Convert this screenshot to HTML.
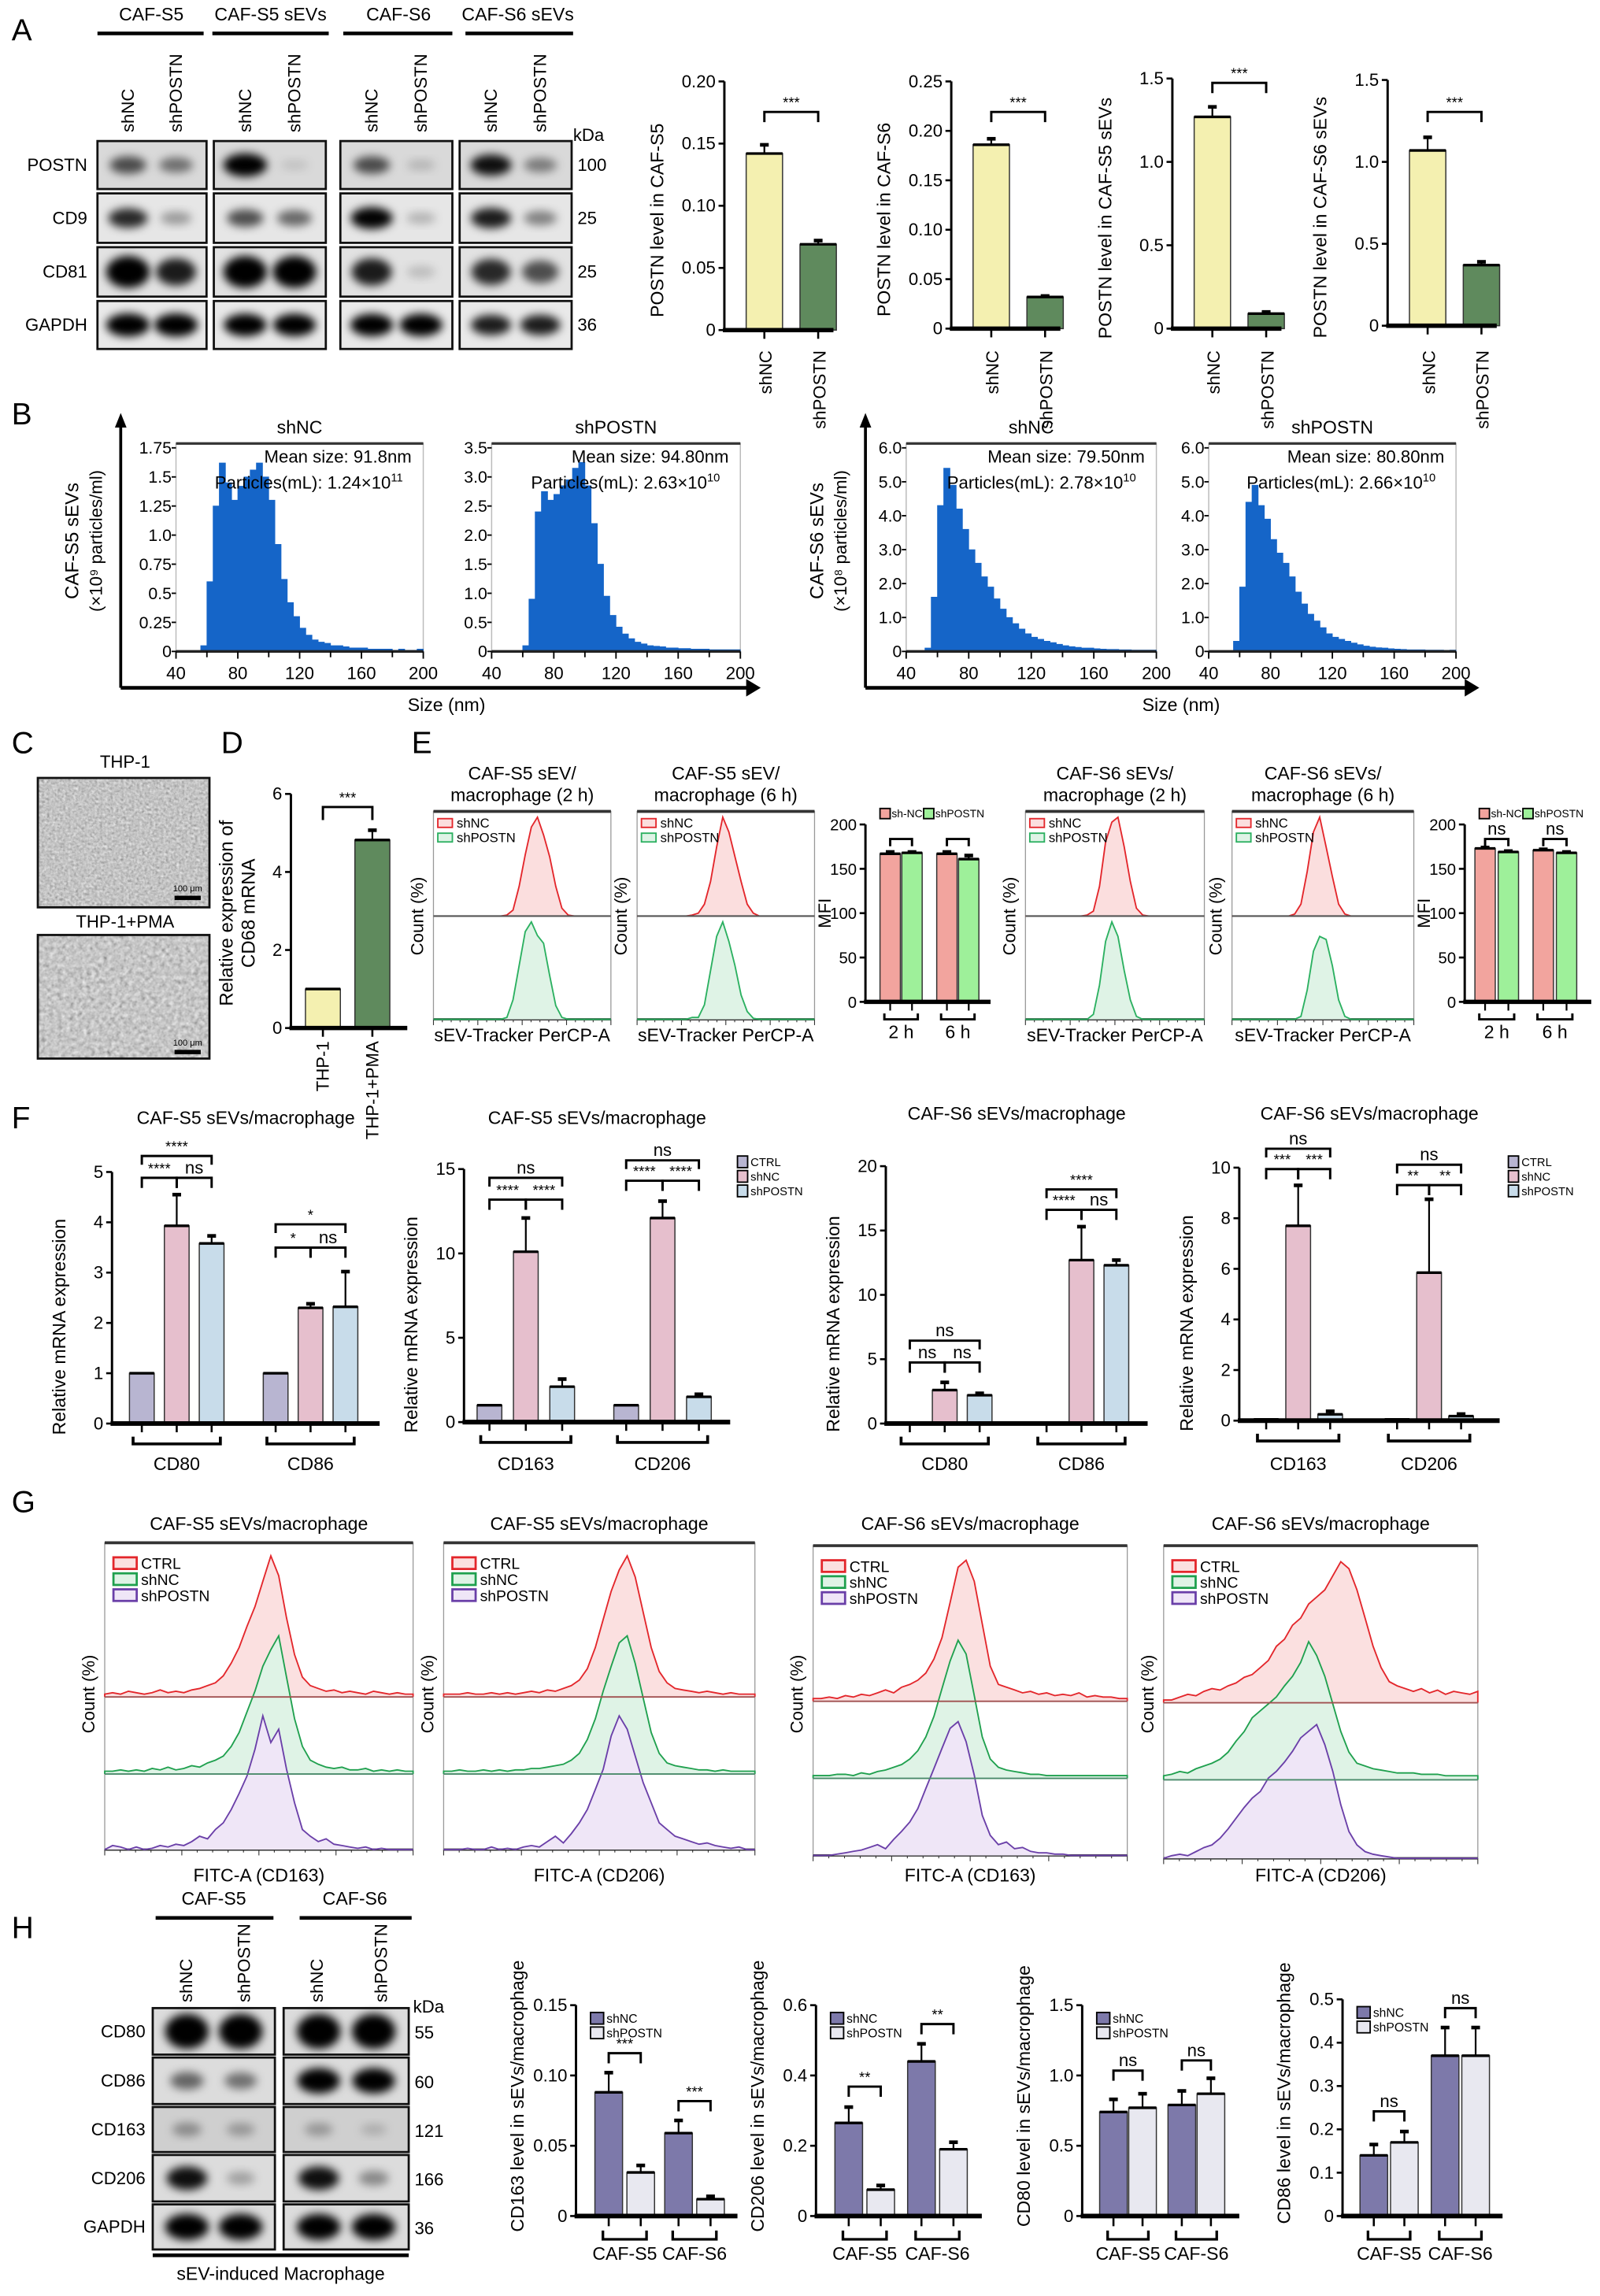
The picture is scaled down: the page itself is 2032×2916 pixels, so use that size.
<!DOCTYPE html>
<html><head><meta charset="utf-8"><style>
html,body{margin:0;padding:0;background:#fff}
svg{display:block;font-family:"Liberation Sans",Arial,sans-serif}
</style></head><body>
<svg id="fig" xmlns="http://www.w3.org/2000/svg" width="2032" height="2916" viewBox="0 0 1100 1579" preserveAspectRatio="none">
<defs>
<filter id="blur" x="-50%" y="-50%" width="200%" height="200%"><feGaussianBlur stdDeviation="3"/></filter>
<filter id="cells1" x="0" y="0" width="100%" height="100%"><feTurbulence type="fractalNoise" baseFrequency="0.55" numOctaves="2" seed="3"/><feColorMatrix type="matrix" values="0.33 0.33 0.33 0 0.05 0.33 0.33 0.33 0 0.05 0.33 0.33 0.33 0 0.05 0 0 0 0 1"/></filter>
<filter id="cells2" x="0" y="0" width="100%" height="100%"><feTurbulence type="fractalNoise" baseFrequency="0.35" numOctaves="2" seed="7"/><feColorMatrix type="matrix" values="0.36 0.36 0.36 0 0.02 0.36 0.36 0.36 0 0.02 0.36 0.36 0.36 0 0.02 0 0 0 0 1"/></filter>
</defs>
</svg>
<script>
// ===== DATA =====
const aCats = ['shNC','shPOSTN'];
const a1Vals = [0.142, 0.069], a1Err = [0.007, 0.003];
const a2Vals = [0.186, 0.032], a2Err = [0.006, 0.001];
const a3Vals = [1.27, 0.09], a3Err = [0.06, 0.01];
const a4Vals = [1.07, 0.37], a4Err = [0.08, 0.02];
const a1Ticks = [0, 0.05, 0.10, 0.15, 0.20], a1TickLabels = ['0','0.05','0.10','0.15','0.20'];
const a2Ticks = [0, 0.05, 0.10, 0.15, 0.20, 0.25], a2TickLabels = ['0','0.05','0.10','0.15','0.20','0.25'];
const a34Ticks = [0, 0.5, 1.0, 1.5], a34TickLabels = ['0','0.5','1.0','1.5'];
const aBlotRows = ['POSTN','CD9','CD81','GAPDH'];
const aBlotKda = ['100','25','25','36'];
const aBandPOSTN = [0.6,0.45,1.0,0.1,0.6,0.15,0.85,0.4];
const aBandCD9 = [0.75,0.3,0.6,0.5,0.9,0.2,0.8,0.4];
const aBandCD81 = [1,0.8,1,1,0.8,0.15,0.75,0.6];
const aBandGAPDH = [1,1,0.95,0.95,0.95,0.95,0.8,0.8];
const bBins = [40,44,48,52,56,60,64,68,72,76,80,84,88,92,96,100,104,108,112,116,120,124,128,132,136,140,144,148,152,156,160,164,168,172,176,180,184,188,192,196];
const b1Vals = [0,0,0,0,0.05,0.6,1.25,1.62,1.45,1.3,1.42,1.5,1.56,1.62,1.5,1.3,0.92,0.62,0.42,0.3,0.2,0.14,0.1,0.08,0.07,0.05,0.05,0.04,0.03,0.03,0.03,0.02,0.02,0.02,0.02,0.01,0.02,0.01,0.01,0.02];
const b2Vals = [0,0,0,0,0,0.1,0.9,2.4,2.75,2.6,2.7,2.85,2.95,3.15,3.25,2.85,2.2,1.5,0.95,0.62,0.42,0.3,0.22,0.16,0.13,0.1,0.09,0.08,0.06,0.06,0.05,0.05,0.04,0.04,0.04,0.03,0.03,0.03,0.03,0.03];
const b3Vals = [0,0,0,0.1,1.6,4.3,5.4,4.9,4.2,3.6,3.0,2.6,2.2,1.9,1.55,1.25,1.0,0.82,0.66,0.52,0.42,0.36,0.3,0.26,0.21,0.17,0.14,0.12,0.1,0.1,0.08,0.07,0.06,0.06,0.05,0.05,0.04,0.04,0.04,0.04];
const b4Vals = [0,0,0,0,0.3,1.9,4.4,4.9,4.3,3.9,3.3,2.9,2.6,2.2,1.75,1.4,1.1,0.9,0.7,0.52,0.42,0.36,0.3,0.25,0.2,0.16,0.13,0.11,0.1,0.08,0.07,0.06,0.05,0.05,0.05,0.04,0.04,0.04,0.03,0.04];
const b1Ticks = [0,0.25,0.5,0.75,1.0,1.25,1.5,1.75], b1TickLabels = ['0','0.25','0.5','0.75','1.0','1.25','1.5','1.75'];
const b2Ticks = [0,0.5,1.0,1.5,2.0,2.5,3.0,3.5], b2TickLabels = ['0','0.5','1.0','1.5','2.0','2.5','3.0','3.5'];
const b34Ticks = [0,1,2,3,4,5,6], b34TickLabels = ['0','1.0','2.0','3.0','4.0','5.0','6.0'];
const bXTicks = [40,80,120,160,200];
const dCats = ['THP-1','THP-1+PMA'];
const dVals = [1.0, 4.82], dErr = [0, 0.25];
const dTicks = [0,2,4,6];
const e1Red   = [0,0,0,0,0,0,0,0,0,0,0,0,0.01,0.06,0.3,0.62,0.9,1.0,0.82,0.6,0.3,0.08,0.01,0,0,0,0,0,0,0];
const e1Green = [0,0,0,0,0,0,0,0,0,0,0,0,0.02,0.2,0.55,0.9,1.0,0.86,0.78,0.45,0.14,0.02,0,0,0,0,0,0,0,0];
const e2Red   = [0,0,0,0,0,0,0,0,0,0.01,0.03,0.12,0.35,0.7,1.0,0.85,0.6,0.35,0.12,0.03,0,0,0,0,0,0,0,0,0,0];
const e2Green = [0,0,0,0,0,0,0,0,0,0.02,0.02,0.15,0.5,0.85,1.0,0.8,0.55,0.25,0.08,0.01,0,0,0,0,0,0,0,0,0,0];
const e3Red   = [0,0,0,0,0,0,0,0,0,0,0.01,0.05,0.3,0.75,0.95,1.0,0.7,0.35,0.08,0.01,0,0,0,0,0,0,0,0,0,0];
const e3Green = [0,0,0,0,0,0,0,0,0,0,0,0.05,0.35,0.8,1.0,0.85,0.5,0.2,0.03,0,0,0,0,0,0,0,0,0,0,0];
const e4Red   = [0,0,0,0,0,0,0,0,0,0,0.02,0.12,0.45,0.85,1.0,0.7,0.4,0.12,0.02,0,0,0,0,0,0,0,0,0,0,0];
const e4Green = [0,0,0,0,0,0,0,0,0,0,0,0.03,0.3,0.7,0.85,0.82,0.55,0.2,0.03,0,0,0,0,0,0,0,0,0,0,0];
const eGroups = ['2 h','6 h'];
const e5shNC = [167,167], e5shPOSTN = [168,161], e5ErrNC = [2,2], e5ErrPO = [1,4];
const e6shNC = [173,171], e6shPOSTN = [169,168], e6ErrNC = [1,1], e6ErrPO = [1,1];
const eTicks = [0,50,100,150,200];
const fSeries = ['CTRL','shNC','shPOSTN'];
const f1Groups = ['CD80','CD86'];
const f1Vals = [[1,3.93,3.58],[1,2.3,2.32]], f1Err = [[0,0.62,0.15],[0,0.08,0.7]];
const f2Groups = ['CD163','CD206'];
const f2Vals = [[1,10.1,2.1],[1,12.1,1.5]], f2Err = [[0,2.0,0.45],[0,1.0,0.15]];
const f3Groups = ['CD80','CD86'];
const f3Vals = [[0,2.6,2.2],[0,12.7,12.3]], f3Err = [[0,0.6,0.15],[0,2.6,0.4]];
const f4Groups = ['CD163','CD206'];
const f4Vals = [[0.05,7.7,0.25],[0.05,5.85,0.18]], f4Err = [[0,1.6,0.12],[0,2.9,0.08]];
const f1Ticks=[0,1,2,3,4,5], f2Ticks=[0,5,10,15], f3Ticks=[0,5,10,15,20], f4Ticks=[0,2,4,6,8,10];
const g1Red = [0.02,0.03,0.02,0.04,0.03,0.02,0.03,0.05,0.03,0.04,0.03,0.05,0.06,0.08,0.1,0.15,0.24,0.35,0.5,0.64,0.82,1.0,0.86,0.56,0.3,0.14,0.08,0.06,0.04,0.05,0.03,0.04,0.03,0.02,0.04,0.03,0.02,0.03,0.02,0.02];
const g1Green = [0.02,0.02,0.03,0.02,0.03,0.02,0.04,0.03,0.05,0.03,0.04,0.06,0.05,0.08,0.1,0.13,0.2,0.3,0.45,0.6,0.78,0.9,1.0,0.7,0.4,0.2,0.1,0.07,0.05,0.04,0.05,0.03,0.03,0.04,0.02,0.03,0.02,0.03,0.02,0.02];
const g1Purple = [0,0.03,0.02,0,0.02,0,0.01,0.03,0.02,0.04,0.03,0.06,0.1,0.08,0.15,0.2,0.3,0.42,0.55,0.75,1.0,0.8,0.9,0.6,0.35,0.15,0.1,0.06,0.08,0.04,0.03,0.02,0.01,0.02,0,0.01,0,0,0,0];
const g2Red = [0.02,0.02,0.02,0.03,0.02,0.02,0.03,0.02,0.03,0.02,0.03,0.04,0.03,0.05,0.04,0.06,0.08,0.12,0.2,0.35,0.55,0.75,0.9,1.0,0.85,0.6,0.35,0.18,0.1,0.06,0.05,0.04,0.03,0.04,0.03,0.02,0.03,0.02,0.02,0.02];
const g2Green = [0.02,0.02,0.03,0.02,0.02,0.03,0.02,0.03,0.02,0.03,0.03,0.04,0.04,0.05,0.06,0.07,0.1,0.15,0.25,0.4,0.6,0.78,0.95,1.0,0.8,0.55,0.3,0.15,0.08,0.06,0.05,0.04,0.03,0.03,0.02,0.03,0.02,0.02,0.02,0.02];
const g2Purple = [0,0,0,0.01,0,0,0.02,0,0.01,0,0.02,0.03,0.02,0.06,0.1,0.05,0.12,0.2,0.3,0.45,0.6,0.85,1.0,0.9,0.7,0.5,0.35,0.2,0.15,0.1,0.08,0.06,0.04,0.05,0.03,0.02,0.01,0.02,0,0];
const g3Red = [0.02,0.02,0.03,0.02,0.04,0.03,0.05,0.04,0.06,0.08,0.06,0.1,0.12,0.15,0.2,0.3,0.45,0.7,0.95,1.0,0.85,0.55,0.25,0.12,0.1,0.08,0.06,0.07,0.05,0.06,0.04,0.05,0.04,0.06,0.03,0.04,0.03,0.03,0.02,0.02];
const g3Green = [0.02,0.02,0.02,0.03,0.03,0.02,0.04,0.03,0.05,0.06,0.08,0.1,0.14,0.2,0.3,0.45,0.65,0.85,1.0,0.9,0.6,0.3,0.14,0.08,0.06,0.05,0.04,0.03,0.03,0.02,0.02,0.02,0.02,0.02,0.02,0.02,0.02,0.02,0.02,0.02];
const g3Purple = [0,0,0,0.01,0.02,0.03,0.04,0.06,0.08,0.05,0.12,0.18,0.25,0.35,0.5,0.65,0.8,0.95,1.0,0.85,0.6,0.3,0.15,0.08,0.1,0.05,0.06,0.03,0.02,0.02,0.01,0.01,0,0,0,0,0,0,0,0];
const g4Red = [0.02,0.02,0.04,0.06,0.05,0.08,0.1,0.09,0.12,0.14,0.18,0.2,0.25,0.3,0.4,0.45,0.55,0.6,0.7,0.75,0.8,0.9,1.0,0.95,0.8,0.6,0.4,0.25,0.15,0.12,0.1,0.08,0.1,0.07,0.09,0.06,0.08,0.07,0.06,0.08];
const g4Green = [0.03,0.04,0.06,0.05,0.08,0.1,0.12,0.15,0.2,0.28,0.35,0.45,0.5,0.55,0.6,0.68,0.75,0.85,1.0,0.9,0.75,0.55,0.35,0.2,0.12,0.1,0.08,0.07,0.06,0.05,0.05,0.05,0.04,0.04,0.04,0.03,0.03,0.03,0.03,0.03];
const g4Purple = [0,0.02,0.03,0.02,0.05,0.08,0.1,0.15,0.22,0.3,0.38,0.45,0.5,0.6,0.65,0.72,0.8,0.9,0.95,1.0,0.85,0.65,0.4,0.2,0.1,0.05,0.03,0.02,0.01,0,0,0,0,0,0,0,0,0,0,0];
const hSeries = ['shNC','shPOSTN'];
const hGroups = ['CAF-S5','CAF-S6'];
const h1Vals = [[0.088,0.031],[0.059,0.012]], h1Err = [[0.014,0.005],[0.009,0.002]];
const h2Vals = [[0.265,0.075],[0.44,0.19]], h2Err = [[0.045,0.012],[0.05,0.02]];
const h3Vals = [[0.74,0.77],[0.79,0.87]], h3Err = [[0.09,0.1],[0.1,0.11]];
const h4Vals = [[0.14,0.17],[0.37,0.37]], h4Err = [[0.025,0.025],[0.065,0.065]];
const h1Ticks=[0,0.05,0.10,0.15], h1TickLabels=['0','0.05','0.10','0.15'];
const h2Ticks=[0,0.2,0.4,0.6], h2TickLabels=['0','0.2','0.4','0.6'];
const h3Ticks=[0,0.5,1.0,1.5], h3TickLabels=['0','0.5','1.0','1.5'];
const h4Ticks=[0,0.1,0.2,0.3,0.4,0.5], h4TickLabels=['0','0.1','0.2','0.3','0.4','0.5'];
const hBandCD80=[1,1,1,1], hBandCD86=[0.5,0.45,0.95,0.95], hBandCD163=[0.3,0.25,0.25,0.15], hBandCD206=[0.85,0.25,0.85,0.35], hBandGAPDH=[1,1,1,1];
const hBlotRows=['CD80','CD86','CD163','CD206','GAPDH'], hBlotKda=['55','60','121','166','36'];

// ===== HELPERS =====
const NS='http://www.w3.org/2000/svg';
const svg=document.getElementById('fig');
function mk(tag,a,p,name){
  const e=document.createElementNS(NS,tag);
  for(const k in a) e.setAttribute(k,a[k]);
  
  
  (p||svg).appendChild(e);
  return e;
}
function T(x,y,s,size,anchor,name,rot,extra){
  const a={x:x,y:y,'font-size':size,'text-anchor':anchor||'middle',fill:'#000'};
  if(rot) a.transform='rotate('+rot+' '+x+' '+y+')';
  if(extra) for(const k in extra) a[k]=extra[k];
  const e=mk('text',a,null,name);
  e.textContent=s;
  return e;
}
function L(x1,y1,x2,y2,w,name,col){return mk('line',{x1:x1,y1:y1,x2:x2,y2:y2,stroke:col||'#000','stroke-width':w||1},null,name);}
function P(d,st,name){const a={d:d};for(const k in st)a[k]=st[k];return mk('path',a,null,name);}
function sig(x1,x2,y,label,drop,name){
  P('M'+x1+' '+(y+drop)+'V'+y+'H'+x2+'V'+(y+drop),{fill:'none',stroke:'#000','stroke-width':1.6},name+'-bracket');
  T((x1+x2)/2,y-3,label,label==='ns'?12:10,'middle',name+'-label');
}
function yAxis(axX,y0,yTop,max,ticks,labels,size,name){
  const sy=v=>y0-(v/max)*(y0-yTop);
  L(axX,y0,axX,yTop,1.6,name+'-y-axis');
  ticks.forEach((t,i)=>{
    L(axX-4,sy(t),axX,sy(t),1.4,name+'-y-tick');
    T(axX-6,sy(t)+4,labels[i],size||12,'end',name+'-y-tick-label');
  });
  return sy;
}
function bar(x,w,y0,sy,v,e,col,name){
  mk('rect',{x:x,y:sy(v),width:w,height:Math.max(0,y0-sy(v)),fill:col,stroke:'#333','stroke-width':0.8},null,name);
  if(e>0){
    L(x+w/2,sy(v),x+w/2,sy(v+e),1.2,name+'-error');
    L(x+w/2-3,sy(v+e),x+w/2+3,sy(v+e),2.5,name+'-error-cap');
  }
  L(x,sy(v),x+w,sy(v),1.8,name+'-top');
}

[['A',8,28],['B',8,292],['C',8,518],['D',152,518],['E',283,518],['F',8,776],['G',8,1040],['H',8,1333]].forEach(p=>{
  T(p[1],p[2],p[0],21,'start','panel-label-'+p[0]);
});

// ===== PANEL A BLOTS =====
const aHdr=[['CAF-S5',104,67,140],['CAF-S5 sEVs',186,146,226],['CAF-S6',274,236,311],['CAF-S6 sEVs',356,320,394]];
aHdr.forEach(h=>{T(h[1],14,h[0],12.5,'middle','blot-group-header');L(h[2],23,h[3],23,2.5,'blot-group-line');});
const aBlotX=[[67,142],[147,224],[234,311],[316,393]];
const aRowY=[[97,130],[133,167],[170,204],[207,240]];
const aBands=[aBandPOSTN,aBandCD9,aBandCD81,aBandGAPDH];
const aBg=['#d9d9d9','#e6e6e6','#e2e2e2','#e9e9e9'];
aBlotX.forEach((bx,gi)=>{
  const cx1=bx[0]+(bx[1]-bx[0])*0.28, cx2=bx[0]+(bx[1]-bx[0])*0.72;
  T(cx1+4,91,'shNC',12,'start','lane-label-shNC',-90);
  T(cx2+4,91,'shPOSTN',12,'start','lane-label-shPOSTN',-90);
  aRowY.forEach((ry,ri)=>{
    mk('rect',{x:bx[0],y:ry[0],width:bx[1]-bx[0],height:ry[1]-ry[0],fill:aBg[ri],stroke:'#111','stroke-width':1.5},null,'blot-'+aBlotRows[ri].toLowerCase());
    [cx1,cx2].forEach((cx,li)=>{
      const v=aBands[ri][gi*2+li];
      const tall=(ri===2?8:5);
      mk('ellipse',{cx:cx,cy:(ry[0]+ry[1])/2,rx:9+6*v,ry:3+tall*v,fill:'#000','fill-opacity':Math.min(1,v*1.1),filter:'url(#blur)'},null,'blot-band');
    });
  });
});
aBlotRows.forEach((r,i)=>{T(60,(aRowY[i][0]+aRowY[i][1])/2+4,r,12,'end','blot-row-label');T(397,(aRowY[i][0]+aRowY[i][1])/2+4,aBlotKda[i],12,'start','blot-kda-value');});
T(394,97,'kDa',12,'start','kda-label');

function aChart(axX,y0,yTop,max,ticks,labels,vals,errs,ylabel,sigY,name){
  const sy=yAxis(axX,y0,yTop,max,ticks,labels,12,name);
  const cols=['#f4f0b0','#5f8a5d'];
  const xs=[];
  vals.forEach((v,i)=>{
    const x=axX+15+i*37; xs.push(x+12.5);
    bar(x,25,y0,sy,v,errs[i],cols[i],name+'-bar-'+aCats[i]);
    L(x+12.5,y0,x+12.5,y0+6,1.4,name+'-x-tick');
    T(x+12.5+5,241,aCats[i],12,'end',name+'-x-label',-90);
  });
  L(axX-1,y0,axX+75,y0,3,name+'-x-axis');
  T(axX-42,(y0+yTop)/2+10,ylabel,12.5,'middle',name+'-y-title',-90);
  sig(xs[0],xs[1],sigY,'***',7,name+'-sig');
}
aChart(498,227,56,0.20,a1Ticks,a1TickLabels,a1Vals,a1Err,'POSTN level in CAF-S5',77,'a1');
aChart(654,226,56,0.25,a2Ticks,a2TickLabels,a2Vals,a2Err,'POSTN level in CAF-S6',77,'a2');
aChart(806,226,54,1.5,a34Ticks,a34TickLabels,a3Vals,a3Err,'POSTN level in CAF-S5 sEVs',57,'a3');
aChart(954,224,55,1.5,a34Ticks,a34TickLabels,a4Vals,a4Err,'POSTN level in CAF-S6 sEVs',77,'a4');

// ===== PANEL B =====
function hist(x1,x2,y0,yTop,max,ticks,labels,vals,title,mean,part,exp,name){
  const sx=v=>x1+(v-40)/160*(x2-x1);
  const sy=v=>y0-(v/max)*(y0-yTop);
  mk('rect',{x:x1,y:305,width:x2-x1,height:y0-305,fill:'none',stroke:'#bbb','stroke-width':0.8},null,name+'-frame');
  L(x1,305,x2,305,1.8,name+'-top-border','#333');
  let d='M'+sx(40)+' '+y0;
  bBins.forEach((b,i)=>{d+='V'+sy(vals[i])+'H'+sx(b+4);});
  d+='V'+y0+'Z';
  P(d,{fill:'#1565c8',stroke:'#1565c8','stroke-width':0.4},name+'-histogram');
  L(x1,y0,x2,y0,1.8,name+'-x-axis','#222');
  ticks.forEach((t,i)=>{L(x1-3,sy(t),x1,sy(t),1,name+'-y-tick');T(x1-3,sy(t)+4,labels[i],11.5,'end',name+'-y-tick-label');});
  bXTicks.forEach(t=>{L(sx(t),y0,sx(t),y0+5,1,name+'-x-tick');T(sx(t),y0+19,String(t),12,'middle',name+'-x-tick-label');});
  [60,100,140,180].forEach(t=>L(sx(t),y0,sx(t),y0+4,1,name+'-x-minor-tick'));
  T((x1+x2)/2,298,title,12.5,'middle',name+'-title');
  T(x2-8,318,mean,12,'end',name+'-mean-size');
  const t=T(x2-14,336,part,12,'end',name+'-particles');
  const ts=document.createElementNS(NS,'tspan');ts.setAttribute('font-size','8');ts.setAttribute('dy','-5');ts.textContent=exp;t.appendChild(ts);
}
hist(121,291,448,308,1.75,b1Ticks,b1TickLabels,b1Vals,'shNC','Mean size: 91.8nm','Particles(mL): 1.24×10','11','b1');
hist(338,509,448,308,3.5,b2Ticks,b2TickLabels,b2Vals,'shPOSTN','Mean size: 94.80nm','Particles(mL): 2.63×10','10','b2');
hist(623,795,448,308,6,b34Ticks,b34TickLabels,b3Vals,'shNC','Mean size: 79.50nm','Particles(mL): 2.78×10','10','b3');
hist(831,1001,448,308,6,b34Ticks,b34TickLabels,b4Vals,'shPOSTN','Mean size: 80.80nm','Particles(mL): 2.66×10','10','b4');
[[83,523,307],[595,1017,812]].forEach((g,i)=>{
  L(g[0],473,g[0],292,2,'b-arrow-y-axis');
  P('M'+(g[0]-4)+' 294L'+g[0]+' 284L'+(g[0]+4)+' 294Z',{fill:'#000'},'b-arrow-head-y');
  L(g[0],473,g[1]-8,473,2.5,'b-arrow-x-axis');
  P('M'+(g[1]-10)+' 467L'+g[1]+' 473L'+(g[1]-10)+' 479Z',{fill:'#000'},'b-arrow-head-x');
  T(g[2],489,'Size (nm)',12.5,'middle','b-x-title');
});
T(54,372,'CAF-S5 sEVs',13,'middle','b-y-title-1',-90);
T(70,372,'(×10⁹ particles/ml)',12,'middle','b-y-title-1b',-90);
T(566,372,'CAF-S6 sEVs',13,'middle','b-y-title-2',-90);
T(582,372,'(×10⁸ particles/ml)',12,'middle','b-y-title-2b',-90);

// ===== PANEL C =====
T(86,528,'THP-1',12,'middle','c-label-thp1');
mk('rect',{x:26,y:535,width:118,height:89,fill:'#777',filter:'url(#cells1)'},null,'c-image-thp1');
mk('rect',{x:26,y:535,width:118,height:89,fill:'none',stroke:'#111','stroke-width':1.5},null,'c-image-frame');
T(86,638,'THP-1+PMA',12,'middle','c-label-thp1-pma');
mk('rect',{x:26,y:643,width:118,height:85,fill:'#777',filter:'url(#cells2)'},null,'c-image-thp1-pma');
mk('rect',{x:26,y:643,width:118,height:85,fill:'none',stroke:'#111','stroke-width':1.5},null,'c-image-frame');
mk('rect',{x:120,y:616,width:18,height:3,fill:'#000'},null,'c-scale-bar');
mk('rect',{x:120,y:722,width:18,height:3,fill:'#000'},null,'c-scale-bar');
T(129,613,'100 μm',6,'middle','c-scale-label');
T(129,719,'100 μm',6,'middle','c-scale-label');

// ===== PANEL D =====
(function(){
  const sy=yAxis(200,707,546,6,dTicks,dTicks.map(String),12,'d');
  const cols=['#f4f0b0','#5f8a5d'];
  dVals.forEach((v,i)=>{
    const x=210+i*34;
    bar(x,24,707,sy,v,dErr[i],cols[i],'d-bar-'+i);
    L(x+12,707,x+12,713,1.4,'d-x-tick');
    T(x+16,716,dCats[i],12,'end','d-x-label',-90);
  });
  L(199,707,280,707,3,'d-x-axis');
  T(160,628,'Relative expression of',13,'middle','d-y-title',-90);
  T(175,628,'CD68 mRNA',13,'middle','d-y-title-2',-90);
  sig(222,256,555,'***',9,'d-sig');
})();

// ===== PANEL E FLOW =====
function flowBox(x1,x2,top,bottom,name){
  mk('rect',{x:x1,y:top,width:x2-x1,height:bottom-top,fill:'none',stroke:'#999','stroke-width':0.7},null,name+'-frame');
  L(x1,top,x2,top,2,name+'-top-border','#333');
  L(x1,bottom,x2,bottom,1.6,name+'-x-axis','#333');
  for(let i=0;i<=20;i++){L(x1+(x2-x1)*i/20,bottom,x1+(x2-x1)*i/20,bottom+(i%5===0?4:2),0.6,name+'-x-tick','#333');}
}
function curve(x1,x2,base,h,vals,col,fill,name){
  const n=vals.length, sx=i=>x1+i*(x2-x1)/(n-1);
  let d='M'+x1+' '+base;
  vals.forEach((v,i)=>{d+='L'+sx(i).toFixed(1)+' '+(base-v*h).toFixed(1);});
  P(d+'L'+x2+' '+base+'Z',{fill:fill,stroke:'none'},name+'-fill');
  P(d+'L'+x2+' '+base,{fill:'none',stroke:col,'stroke-width':1},name+'-line');
}
const eFlows=[[298,420,e1Red,e1Green,'CAF-S5 sEV/','macrophage (2 h)'],[438,560,e2Red,e2Green,'CAF-S5 sEV/','macrophage (6 h)'],[705,828,e3Red,e3Green,'CAF-S6 sEVs/','macrophage (2 h)'],[847,972,e4Red,e4Green,'CAF-S6 sEVs/','macrophage (6 h)']];
eFlows.forEach((f,i)=>{
  const nm='e-flow-'+(i+1);
  flowBox(f[0],f[1],558,701,nm);
  curve(f[0],f[1],630,68,f[2],'#e3262b','#fbdede',nm+'-shNC');
  curve(f[0],f[1],701,67,f[3],'#2bb060','#dff3e6',nm+'-shPOSTN');
  L(f[0],630,f[1],630,1.2,nm+'-baseline','#555');
  T((f[0]+f[1])/2,536,f[4],12.5,'middle',nm+'-title');
  T((f[0]+f[1])/2,551,f[5],12.5,'middle',nm+'-title-2');
  mk('rect',{x:f[0]+3,y:563,width:10,height:6,fill:'#fbdede',stroke:'#e3262b','stroke-width':1},null,nm+'-legend-swatch');
  T(f[0]+16,569,'shNC',9,'start',nm+'-legend-label');
  mk('rect',{x:f[0]+3,y:573,width:10,height:6,fill:'#dff3e6',stroke:'#2bb060','stroke-width':1},null,nm+'-legend-swatch');
  T(f[0]+16,579,'shPOSTN',9,'start',nm+'-legend-label');
  T(f[0]-7,630,'Count (%)',12,'middle',nm+'-y-title',-90);
  T((f[0]+f[1])/2,716,'sEV-Tracker PerCP-A',12.5,'middle',nm+'-x-title');
});
function mfiChart(axX,off,pitch,grp,nc,po,enc,epo,end,sigLabel,name){
  const y0=689;
  const sy=yAxis(axX,y0,567,200,eTicks,eTicks.map(String),11,name);
  eGroups.forEach((g,gi)=>{
    const x=axX+off+gi*grp;
    bar(x,14,y0,sy,nc[gi],enc[gi],'#f2a49e',name+'-bar-shNC');
    bar(x+pitch,14,y0,sy,po[gi],epo[gi],'#9ef09a',name+'-bar-shPOSTN');
    L(x+7,y0,x+7,y0+6,1.2,name+'-x-tick');L(x+pitch+7,y0,x+pitch+7,y0+6,1.2,name+'-x-tick');
    P('M'+(x+3)+' '+(y0+8)+'V'+(y0+12)+'H'+(x+pitch+11)+'V'+(y0+8),{fill:'none',stroke:'#000','stroke-width':1.6},name+'-group-bracket');
    T(x+(pitch+14)/2,714,g,12.5,'middle',name+'-x-label');
    const cx1=x+7,cx2=x+pitch+7;
    sig(cx1,cx2,577,sigLabel,5,name+'-sig');
  });
  L(axX-1,y0,end,y0,3,name+'-x-axis');
  T(axX-24,628,'MFI',12,'middle',name+'-y-title',-90);
  mk('rect',{x:axX+10,y:556,width:7,height:7,fill:'#f2a49e',stroke:'#000','stroke-width':1},null,name+'-legend-swatch');
  T(axX+18,562,'sh-NC',7.5,'start',name+'-legend-label');
  mk('rect',{x:axX+40,y:556,width:7,height:7,fill:'#9ef09a',stroke:'#000','stroke-width':1},null,name+'-legend-swatch');
  T(axX+48,562,'shPOSTN',7.5,'start',name+'-legend-label');
}
mfiChart(595,10,15,39,e5shNC,e5shPOSTN,e5ErrNC,e5ErrPO,681,'','e-mfi-1');
mfiChart(1007,7,16,40,e6shNC,e6shPOSTN,e6ErrNC,e6ErrPO,1094,'ns','e-mfi-2');

// ===== PANEL F =====
const fCols=['#b8b5d1','#e6bfcd','#c8dcea'];
function fChart(axX,y0,yTop,max,ticks,groups,vals,errs,off,pitch,grp,end,title,name){
  const sy=yAxis(axX,y0,yTop,max,ticks,ticks.map(String),12,name);
  const centers=[];
  groups.forEach((g,gi)=>{
    const cs=[];
    vals[gi].forEach((v,si)=>{
      const x=axX+off+gi*grp+si*pitch;
      bar(x,17,y0,sy,v,errs[gi][si],fCols[si],name+'-bar-'+g+'-'+fSeries[si]);
      L(x+8.5,y0,x+8.5,y0+6,1.4,name+'-x-tick');
      cs.push(x+8.5);
    });
    P('M'+(cs[0]-6)+' '+(y0+9)+'V'+(y0+14)+'H'+(cs[2]+6)+'V'+(y0+9),{fill:'none',stroke:'#000','stroke-width':2},name+'-group-bracket');
    T((cs[0]+cs[2])/2,1011,g,12.5,'middle',name+'-x-label');
    centers.push(cs);
  });
  L(axX-1,y0,end,y0,3.2,name+'-x-axis');
  T(axX-32,(y0+yTop)/2+20,'Relative mRNA expression',12.5,'middle',name+'-y-title',-90);
  T((axX+end)/2,title[1],title[0],12.5,'middle',name+'-title');
  return centers;
}
function sig3(c,yTop,topLab,yLow,l1,l2,name){
  sig(c[0],c[2],yTop,topLab,6,name+'-top');
  sig(c[0],c[1],yLow,l1,7,name+'-left');
  sig(c[1],c[2],yLow,l2,7,name+'-right');
}
function fLegend(x,name){
  fSeries.forEach((s,i)=>{
    mk('rect',{x:x,y:795+i*10,width:7,height:8,fill:fCols[i],stroke:'#000','stroke-width':1},null,name+'-legend-swatch');
    T(x+9,802+i*10,s,8,'start',name+'-legend-label');
  });
}
let c;
c=fChart(77,979,806,5,f1Ticks,f1Groups,f1Vals,f1Err,12,24,92,261,['CAF-S5 sEVs/macrophage',773],'f1');
sig3(c[0],795,'****',810,'****','ns','f1-cd80');
sig3(c[1],842,'*',858,'*','ns','f1-cd86');
c=fChart(319,978,804,15,f2Ticks,f2Groups,f2Vals,f2Err,9,25,94,502,['CAF-S5 sEVs/macrophage',773],'f2');
sig3(c[0],810,'ns',825,'****','****','f2-cd163');
sig3(c[1],798,'ns',812,'****','****','f2-cd206');
fLegend(507,'f2');
c=fChart(609,979,802,20,f3Ticks,f3Groups,f3Vals,f3Err,8,24,94,789,['CAF-S6 sEVs/macrophage',770],'f3');
sig3(c[0],922,'ns',937,'ns','ns','f3-cd80');
sig3(c[1],818,'****',832,'****','ns','f3-cd86');
c=fChart(852,977,803,10,f4Ticks,f4Groups,f4Vals,f4Err,10,22,90,1031,['CAF-S6 sEVs/macrophage',770],'f4');
sig3(c[0],790,'ns',804,'***','***','f4-cd163');
sig3(c[1],801,'ns',815,'**','**','f4-cd206');
fLegend(1037,'f4');

// ===== PANEL G =====
const gPanels=[[72,284,1061,1167,1220,1272,g1Red,g1Green,g1Purple,'FITC-A (CD163)'],[305,519,1061,1167,1220,1272,g2Red,g2Green,g2Purple,'FITC-A (CD206)'],[559,775,1063,1170,1223,1276,g3Red,g3Green,g3Purple,'FITC-A (CD163)'],[800,1016,1063,1171,1224,1278,g4Red,g4Green,g4Purple,'FITC-A (CD206)']];
gPanels.forEach((g,i)=>{
  const nm='g-flow-'+(i+1);
  flowBox(g[0],g[1],g[2],g[5],nm);
  curve(g[0],g[1],g[3],97,g[6],'#e3262b','#fbe0e0',nm+'-ctrl');
  curve(g[0],g[1],g[4],95,g[7],'#1fa04e','#dff3e6',nm+'-shNC');
  curve(g[0],g[1],g[5],92,g[8],'#6a3fa8','#efe6f7',nm+'-shPOSTN');
  L(g[0],g[3],g[1],g[3],1,nm+'-baseline-ctrl','#a05050');
  L(g[0],g[4],g[1],g[4],1,nm+'-baseline-shNC','#4a8a6a');
  T((g[0]+g[1])/2,1052,i<2?'CAF-S5 sEVs/macrophage':'CAF-S6 sEVs/macrophage',12.5,'middle',nm+'-title');
  [['CTRL','#e3262b','#fbe0e0'],['shNC','#1fa04e','#dff3e6'],['shPOSTN','#6a3fa8','#efe6f7']].forEach((l,j)=>{
    mk('rect',{x:g[0]+6,y:g[2]+10+j*11,width:16,height:8,fill:l[2],stroke:l[1],'stroke-width':1.5},null,nm+'-legend-swatch');
    T(g[0]+25,g[2]+18+j*11,l[0],10.5,'start',nm+'-legend-label');
  });
  T(g[0]-7,1165,'Count (%)',12,'middle',nm+'-y-title',-90);
  T((g[0]+g[1])/2,1294,g[9],12.5,'middle',nm+'-x-title');
});

// ===== PANEL H BLOTS =====
[['CAF-S5',147,107,188],['CAF-S6',244,206,283]].forEach(h=>{T(h[1],1310,h[0],12.5,'middle','h-blot-header');L(h[2],1319,h[3],1319,2.5,'h-blot-header-line');});
const hBlotX=[[105,189],[195,281]];
const hRowY=[[1381,1413],[1415,1447],[1449,1480],[1482,1514],[1516,1547]];
const hBands=[hBandCD80,hBandCD86,hBandCD163,hBandCD206,hBandGAPDH];
[128,168,218,262].forEach((x,i)=>T(x+4,1377,i%2===0?'shNC':'shPOSTN',12,'start','h-lane-label',-90));
T(284,1384,'kDa',12,'start','h-kda-label');
hBlotX.forEach((bx,gi)=>{
  const cx1=bx[0]+(bx[1]-bx[0])*0.28, cx2=bx[0]+(bx[1]-bx[0])*0.72;
  hRowY.forEach((ry,ri)=>{
    mk('rect',{x:bx[0],y:ry[0],width:bx[1]-bx[0],height:ry[1]-ry[0],fill:ri===2?'#cfcfcf':'#dcdcdc',stroke:'#111','stroke-width':1.5},null,'h-blot-'+hBlotRows[ri].toLowerCase());
    [cx1,cx2].forEach((cx,li)=>{
      const v=hBands[ri][gi*2+li];
      mk('ellipse',{cx:cx,cy:(ry[0]+ry[1])/2,rx:8+7*v,ry:3+(ri===0?9:6)*v,fill:'#000','fill-opacity':Math.min(1,v*1.1),filter:'url(#blur)'},null,'h-blot-band');
    });
  });
});
hBlotRows.forEach((r,i)=>{T(100,(hRowY[i][0]+hRowY[i][1])/2+4,r,12,'end','h-blot-row-label');T(285,(hRowY[i][0]+hRowY[i][1])/2+5,hBlotKda[i],12,'start','h-blot-kda');});
L(105,1551,281,1551,2.5,'h-blot-bottom-line');
T(193,1568,'sEV-induced  Macrophage',12.5,'middle','h-blot-caption');

// ===== PANEL H CHARTS =====
const hCols=['#7d79aa','#e8e8f0'];
function hChart(axX,yTop,max,ticks,labels,vals,errs,off,pitch,grp,end,ylabel,sigs,name){
  const y0=1524;
  const sy=yAxis(axX,y0,yTop,max,ticks,labels,12,name);
  hGroups.forEach((g,gi)=>{
    const cs=[];
    vals[gi].forEach((v,si)=>{
      const x=axX+off+gi*grp+si*pitch;
      bar(x,19,y0,sy,v,errs[gi][si],hCols[si],name+'-bar-'+g+'-'+hSeries[si]);
      L(x+9.5,y0,x+9.5,y0+7,1.4,name+'-x-tick');
      cs.push(x+9.5);
    });
    P('M'+(cs[0]-4)+' '+(y0+10)+'V'+(y0+16)+'H'+(cs[1]+4)+'V'+(y0+10),{fill:'none',stroke:'#000','stroke-width':1.8},name+'-group-bracket');
    T((cs[0]+cs[1])/2,1554,g,12.5,'middle',name+'-x-label');
    sig(cs[0],cs[1],sigs[gi][0],sigs[gi][1],7,name+'-sig');
  });
  L(axX-1,y0,end,y0,3.2,name+'-x-axis');
  T(axX-36,(y0+yTop)/2-10,ylabel,12.5,'middle',name+'-y-title',-90);
  hSeries.forEach((s,i)=>{
    mk('rect',{x:axX+10,y:yTop+5+i*10,width:9,height:8,fill:hCols[i],stroke:'#000','stroke-width':1},null,name+'-legend-swatch');
    T(axX+21,yTop+12+i*10,s,8.5,'start',name+'-legend-label');
  });
}
hChart(396,1379,0.15,h1Ticks,h1TickLabels,h1Vals,h1Err,13,22,48,507,'CD163 level in sEVs/macrophage',[[1412,'***'],[1445,'***']],'h1');
hChart(561,1379,0.6,h2Ticks,h2TickLabels,h2Vals,h2Err,13,22,50,675,'CD206 level in sEVs/macrophage',[[1435,'**'],[1392,'**']],'h2');
hChart(744,1379,1.5,h3Ticks,h3TickLabels,h3Vals,h3Err,12,20,47,852,'CD80 level in sEVs/macrophage',[[1424,'ns'],[1417,'ns']],'h3');
hChart(923,1375,0.5,h4Ticks,h4TickLabels,h4Vals,h4Err,12,21,49,1033,'CD86 level in sEVs/macrophage',[[1452,'ns'],[1381,'ns']],'h4');
</script>
</body></html>
